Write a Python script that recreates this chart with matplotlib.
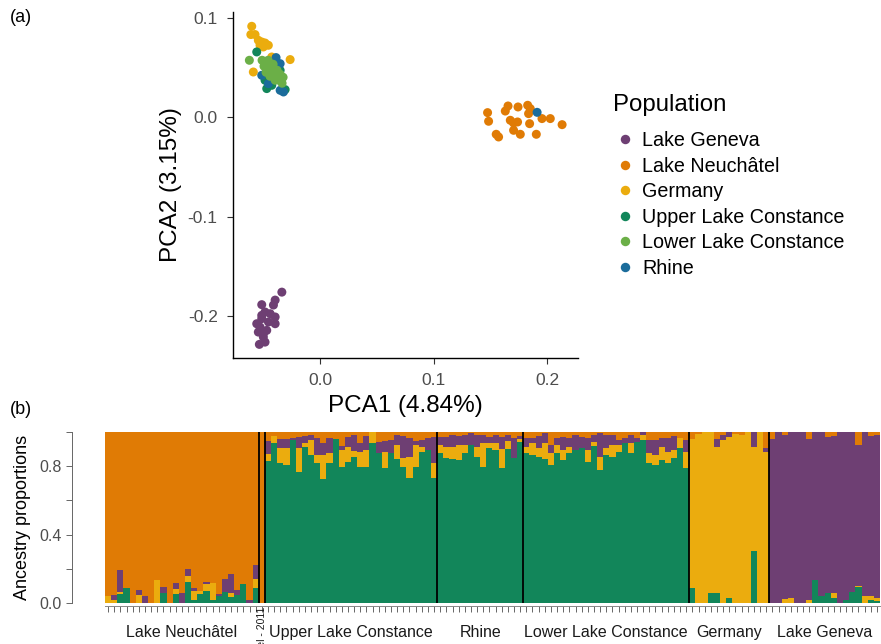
import numpy as np
import matplotlib
matplotlib.use("Agg")
import matplotlib.pyplot as plt
from matplotlib.lines import Line2D
from matplotlib.transforms import blended_transform_factory

plt.rcParams['font.family'] = ['Liberation Sans', 'DejaVu Sans']
plt.rcParams['axes.unicode_minus'] = False

# Farben
col_geneva = "#6E3F73"
col_neuch = "#E07B05"
col_germany = "#EBAC0E"
col_ulc = "#12865A"
col_llc = "#6BAF47"
col_rhine = "#1B6C9B"

# PCA Werte
pop_names = ["Lake Geneva", "Lake Neuchâtel", "Germany",
             "Upper Lake Constance", "Lower Lake Constance", "Rhine"]

geneva_x = [-0.0337, -0.0396, -0.0411, -0.0514, -0.0485, -0.0514, -0.044, -0.0396, -0.0514, -0.0396,
            -0.0455, -0.0558, -0.0529, -0.047, -0.0544, -0.05, -0.0535, -0.0485, -0.05]
geneva_y = [-0.176, -0.184, -0.189, -0.1886, -0.196, -0.1994, -0.1977, -0.201, -0.2027, -0.2078,
            -0.2061, -0.2078, -0.2112, -0.2145, -0.2162, -0.2212, -0.2286, -0.2263, -0.2179]

neuch_x = [0.1474, 0.1483, 0.155, 0.1571, 0.163, 0.1654, 0.1674, 0.1703, 0.1703, 0.1738,
           0.1742, 0.1762, 0.1827, 0.1835, 0.1844, 0.185, 0.1903, 0.1953, 0.2026, 0.213]
neuch_y = [0.0047, -0.004, -0.0171, -0.0198, 0.0063, 0.0114, -0.003, -0.0057, -0.0131, -0.0047,
           0.0104, -0.0171, 0.0121, 0.0037, -0.0064, 0.0087, -0.0171, -0.0013, -0.0013, -0.0074]

germany_x = [-0.0602, -0.061, -0.0573, -0.0544, -0.0514, -0.0485, -0.0456, -0.0529, -0.05, -0.0426,
             -0.0264, -0.0588]
germany_y = [0.0916, 0.0833, 0.0833, 0.0775, 0.0758, 0.0748, 0.0725, 0.0725, 0.0708, 0.0607,
             0.0581, 0.0456]

ulc_x = [-0.0558, -0.0367, -0.047, -0.0426, -0.0337, -0.0308, -0.0359, -0.0485, -0.0352, -0.0415]
ulc_y = [0.0658, 0.0524, 0.0289, 0.0322, 0.0272, 0.0279, 0.0373, 0.0373, 0.0473, 0.0440]

rhine_x = [-0.0388, -0.0352, -0.0514, -0.0456, -0.0352, -0.0323, 0.191]
rhine_y = [0.0601, 0.054, 0.0423, 0.0339, 0.0272, 0.0255, 0.005]

llc_x = [-0.0623, -0.0511, -0.0485, -0.0458, -0.0441, -0.0423, -0.0405, -0.0388, -0.037, -0.0352,
         -0.0335, -0.0476, -0.0441, -0.0396, -0.0494, -0.0458, -0.0414, -0.0379, -0.0352, -0.0326]
llc_y = [0.0574, 0.0574, 0.0544, 0.0514, 0.0494, 0.0474, 0.0443, 0.0413, 0.0393, 0.0373,
         0.0343, 0.0453, 0.0413, 0.0373, 0.0514, 0.0574, 0.0534, 0.0474, 0.0433, 0.0403]

# Ancestry (STRUCTURE) Werte pro Individuum: gruen, gelb, lila, rest = orange
groups = ["Lake Neuchâtel", "Lake Neuchâtel - 2011", "Upper Lake Constance", "Rhine",
          "Lower Lake Constance", "Germany", "Lake Geneva"]
group_sizes = [25, 1, 28, 14, 27, 13, 18]

q_green = [
    # Lake Neuchatel
    0, 0, .05, .09, 0, 0, 0, 0, 0, .06, 0, .055, 0, .12, .015, .055, .07, .018, .043, .066,
    .037, .047, .11, 0, .09,
    # 2011
    0,
    # Upper Lake Constance
    .83, .935, .817, .807, .953, .768, .914, .865, .817, .723, .817, .96, .797, .826, .856,
    .797, .797, .934, .875, .787, .875, .84, .797, .729, .797, .885, .895, .729,
    # Rhine
    .875, .846, .84, .836, .875, .924, .856, .797, .904, .895, .787, .9, .846, .943,
    # Lower Lake Constance
    .875, .865, .856, .84, .807, .875, .836, .875, .895, .904, .826, .92, .778, .865, .856,
    .885, .934, .875, .943, .953, .817, .807, .836, .817, .846, .904, .787,
    # Germany
    .086, 0, 0, .058, .058, 0, .03, 0, 0, 0, .306, 0, 0,
    # Lake Geneva
    0, 0, 0, 0, 0, 0, 0, .134, .043, .06, .03, 0, .02, .064, .095, 0, .018, .01,
]
q_yellow = [
    .04, .015, .015, 0, 0, .045, 0, 0, .135, 0, 0, .025, 0, .037, .055, .015, .04, .1, 0, 0,
    .02, 0, 0, 0, .053,
    0,
    .04, .04, .088, .097, 0, .136, .02, .09, .05, .142, .058, 0, .097, .088, .03,
    .088, .1, .066, 0, .097, 0, .084, .049, .127, .127, .03, 0, .088,
    .049, .068, .074, .088, .049, 0, .058, .136, .033, .043, .111, .045, 0, .015,
    .039, .068, .049, .094, .068, .049, .058, .039, 0, 0, .068, .02, .078, .039, .068,
    .039, 0, .058, 0, .03, .058, .058, .078, .068, .049, .058, .097,
    .874, .99, 1.0, .942, .852, .955, .943, .988, .982, 1.0, .608, 1.0, .885,
    0, 0, .021, .03, 0, 0, .018, 0, 0, 0, .03, 0, 0, 0, .005, .04, .023, .02,
]
q_purple = [
    0, .03, .13, 0, 0, .03, .04, 0, 0, .035, 0, .035, .06, .04, .02, 0, .015, 0, .01, .074,
    .11, .03, 0, .02, .08,
    0,
    .08, 0, .053, .055, .01, .064, .04, .03, .1, .068, .088, 0, .023, .058, .097,
    .049, .078, 0, .068, .064, .078, .058, .13, .107, .025, .04, .068, .156,
    .049, .058, .068, .053, .058, .068, .068, .049, .035, .045, .074, .039, .117, .02,
    .049, .03, .072, .058, .049, .039, .078, .049, .088, .068, .068, .04, .136, .078, .058,
    .03, .03, .049, .02, .018, .078, .088, .049, .078, .082, 0, .068,
    0, 0, 0, 0, .05, .025, .027, 0, 0, 0, .086, 0, .02,
    .957, 1.0, .961, .97, 1.0, 1.0, .939, .866, .957, .91, .917, 1.0, .98, .936, .824, .96, .936, .955,
]

q_green = np.array(q_green)
q_yellow = np.array(q_yellow)
q_purple = np.array(q_purple)
q_orange = np.clip(1 - q_green - q_yellow - q_purple, 0, 1)

fig = plt.figure(figsize=(8.81, 6.44), dpi=100)

# ---------------- (a) PCA ----------------
ax1 = fig.add_axes([233 / 881, 1 - 358 / 644, 345 / 881, 346 / 644])
pts = [
    ("Lake Geneva", geneva_x, geneva_y, col_geneva),
    ("Lake Neuchâtel", neuch_x, neuch_y, col_neuch),
    ("Germany", germany_x, germany_y, col_germany),
    ("Upper Lake Constance", ulc_x, ulc_y, col_ulc),
    ("Rhine", rhine_x, rhine_y, col_rhine),
    ("Lower Lake Constance", llc_x, llc_y, col_llc),
]
for name, xs, ys, c in pts:
    ax1.scatter(xs, ys, s=42, color=c, edgecolors='none', zorder=3)

ax1.set_xlim(-0.0767, 0.227)
ax1.set_ylim(-0.2423, 0.106)
ax1.set_xticks([0.0, 0.1, 0.2])
ax1.set_xticklabels(["0.0", "0.1", "0.2"])
ax1.set_yticks([-0.2, -0.1, 0.0, 0.1])
ax1.set_yticklabels(["-0.2", "-0.1", "0.0", "0.1"])
ax1.tick_params(labelsize=12.5, labelcolor="#4D4D4D", length=4, width=0.8, color="#333333", pad=7)
for s in ["top", "right"]:
    ax1.spines[s].set_visible(False)
for s in ["left", "bottom"]:
    ax1.spines[s].set_linewidth(1.0)
ax1.set_xlabel("PCA1 (4.84%)", fontsize=17.5, labelpad=5)
ax1.set_ylabel("PCA2 (3.15%)", fontsize=17.5, labelpad=4)

legend_cols = [col_geneva, col_neuch, col_germany, col_ulc, col_llc, col_rhine]
handles = [Line2D([], [], marker='o', linestyle='none', markersize=6.8, color=c,
                  markeredgewidth=0) for c in legend_cols]
leg = fig.legend(handles, pop_names, loc="upper left", bbox_to_anchor=(595 / 881, 1 - 76 / 644),
                 frameon=False, fontsize=14.2, title="Population", title_fontsize=17.3,
                 labelspacing=0.33, handletextpad=0.3, handlelength=1.2, alignment="left")
leg._legend_box.sep = 11

fig.text(10 / 881, 1 - 18 / 644, "(a)", fontsize=13, va="center", ha="left")
fig.text(10 / 881, 1 - 410 / 644, "(b)", fontsize=13, va="center", ha="left")

# ---------------- (b) Ancestry ----------------
ax2 = fig.add_axes([105 / 881, 1 - 603 / 644, 775 / 881, 171 / 644])
n = len(q_green)
xpos = np.arange(n)
bottom = np.zeros(n)
for vals, c in [(q_green, col_ulc), (q_yellow, col_germany), (q_purple, col_geneva), (q_orange, col_neuch)]:
    ax2.bar(xpos, vals, width=1.0, bottom=bottom, color=c, linewidth=0)
    bottom = bottom + vals

ax2.set_xlim(-0.5, n - 0.5)
ax2.set_ylim(0, 1)

bounds = np.cumsum(group_sizes)[:-1] - 0.5
for b in bounds:
    ax2.axvline(b, color="black", lw=1.3, zorder=5)

ax2.set_xticks(xpos)
ax2.set_xticklabels([])
ax2.tick_params(axis="x", length=4, width=0.7, color="#666666")
ax2.set_yticks([0, 0.2, 0.4, 0.6, 0.8, 1.0])
ax2.set_yticklabels(["0.0", "", "0.4", "", "0.8", ""], rotation=90, va="center")
ax2.tick_params(axis="y", labelsize=11.5, labelcolor="#4D4D4D", length=4, width=0.7, color="#666666")
ax2.spines["top"].set_visible(False)
ax2.spines["right"].set_visible(False)
ax2.spines["left"].set_position(("outward", 24))
ax2.spines["left"].set_color("#666666")
ax2.spines["left"].set_linewidth(0.7)
ax2.spines["bottom"].set_position(("outward", 2.5))
ax2.spines["bottom"].set_color("#888888")
ax2.spines["bottom"].set_linewidth(0.7)
ax2.set_ylabel("Ancestry proportions", fontsize=13, labelpad=6)

trans = blended_transform_factory(ax2.transData, ax2.transAxes)
starts = np.concatenate([[0], np.cumsum(group_sizes)[:-1]])
for g, st, sz in zip(groups, starts, group_sizes):
    cx = st + sz / 2 - 0.5
    if sz == 1:
        ax2.text(cx, -0.02, g, rotation=90, fontsize=7.5, ha="center", va="top",
                 transform=trans, color="#1A1A1A")
    else:
        ax2.text(cx, -0.17, g, fontsize=11.5, ha="center", va="center",
                 transform=trans, color="#1A1A1A")

fig.savefig("out.png", dpi=100)
